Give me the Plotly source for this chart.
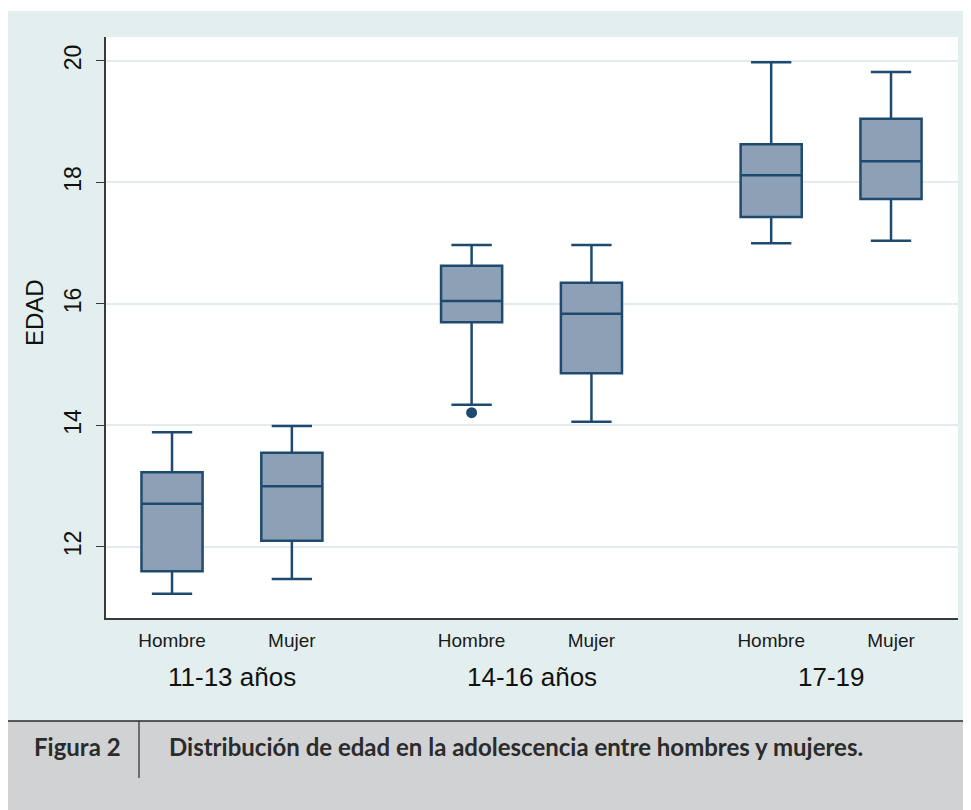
import plotly.graph_objects as go

# ---- data ----
groups = ["11-13 años", "14-16 años", "17-19"]
box_pos = [0, 1, 2.5, 3.5, 5, 6]
box_labels = ["Hombre", "Mujer", "Hombre", "Mujer", "Hombre", "Mujer"]
group_pos = [0.5, 3.0, 5.5]
lower_whisker = [11.23, 11.47, 14.34, 14.06, 17.00, 17.04]
q1_vals = [11.60, 12.10, 15.70, 14.86, 17.43, 17.73]
median_vals = [12.71, 13.00, 16.05, 15.84, 18.12, 18.35]
q3_vals = [13.23, 13.55, 16.63, 16.35, 18.63, 19.05]
upper_whisker = [13.89, 13.99, 16.97, 16.97, 19.98, 19.82]
outlier_x = [2.5]
outlier_y = [14.21]
y_ticks = [12, 14, 16, 18, 20]
caption_label = "Figura 2"
caption_text = "Distribución de edad en la adolescencia entre hombres y mujeres."

# page body has an 8px margin; work in reference pixel coords and shift
OFF = 8
W, H = 971 - OFF, 810 - OFF
PL, PR, PT, PB = 106, 958, 37, 618  # plot box in reference pixels
ML, MT = PL - OFF, PT - OFF
MR = W - (PR - OFF)
MB = H - (PB - OFF)
PW, PH = PR - PL, PB - PT

def px(x):
    return (x - PL) / PW

def py(y):
    return (PB - y) / PH

LINE = "#1f4a70"
FILL = "#8da0b5"
TEAL = "#e3eeee"
GRAY = "#d1d2d4"

fig = go.Figure()
fig.add_trace(go.Box(
    x=box_pos, q1=q1_vals, median=median_vals, q3=q3_vals,
    lowerfence=lower_whisker, upperfence=upper_whisker,
    width=0.51, whiskerwidth=0.66,
    fillcolor=FILL, line=dict(color=LINE, width=2.5),
    boxpoints=False, showlegend=False, hoverinfo="skip",
))
fig.add_trace(go.Scatter(
    x=outlier_x, y=outlier_y, mode="markers",
    marker=dict(color=LINE, size=11), showlegend=False, hoverinfo="skip",
))

shapes = [
    dict(type="rect", xref="paper", yref="paper", x0=px(0), x1=px(980), y0=py(0), y1=py(11),
         fillcolor="white", line_width=0),
    dict(type="rect", xref="paper", yref="paper", x0=px(8), x1=px(980), y0=py(721), y1=py(820),
         fillcolor=GRAY, line_width=0),
    dict(type="line", xref="paper", yref="paper", x0=px(8), x1=px(980), y0=py(721), y1=py(721),
         line=dict(color="#2a2a2a", width=1.5)),
    dict(type="line", xref="paper", yref="paper", x0=px(139), x1=px(139), y0=py(721), y1=py(778),
         line=dict(color="#2a2a2a", width=1.2)),
]

annotations = []
for g, gx in zip(groups, group_pos):
    annotations.append(dict(x=gx, xref="x", y=py(677), yref="paper", text=g, showarrow=False,
                            font=dict(family="Liberation Sans, Arial", size=26, color="#111111"),
                            xanchor="center", yanchor="middle"))
annotations.append(dict(x=px(34), xref="paper", y=py(313), yref="paper", text="EDAD", textangle=-90,
                        showarrow=False, font=dict(family="Liberation Sans, Arial", size=24, color="#111111"),
                        xanchor="center", yanchor="middle"))
annotations.append(dict(x=px(32), xref="paper", y=py(746), yref="paper", text="<b>" + caption_label + "</b>",
                        showarrow=False, font=dict(family="Lato", size=24, color="#2b2b2b"),
                        xanchor="left", yanchor="middle"))
annotations.append(dict(x=px(167), xref="paper", y=py(746), yref="paper", text="<b>" + caption_text + "</b>",
                        showarrow=False, font=dict(family="Lato", size=24, color="#2b2b2b"),
                        xanchor="left", yanchor="middle"))

fig.update_layout(
    width=W, height=H,
    margin=dict(l=ML, r=MR, t=MT, b=MB, pad=0),
    paper_bgcolor=TEAL, plot_bgcolor="white",
    shapes=shapes, annotations=annotations,
    xaxis=dict(range=[-0.551, 6.559], tickvals=box_pos, ticktext=box_labels,
               showgrid=False, zeroline=False, showline=True, linecolor="#3a3a3a", linewidth=1.5,
               ticks="outside", ticklen=4, tickcolor="rgba(0,0,0,0)",
               tickfont=dict(family="Liberation Sans, Arial", size=19, color="#1a1a1a")),
    yaxis=dict(range=[10.83, 20.395], tickvals=y_ticks, tickangle=-90,
               showgrid=True, gridcolor="#e2ecec", gridwidth=2, zeroline=False,
               showline=True, linecolor="#3a3a3a", linewidth=1.5,
               ticks="outside", ticklen=8, tickcolor="#3a3a3a", tickwidth=1.2,
               ticklabelstandoff=6,
               tickfont=dict(family="Liberation Sans, Arial", size=23, color="#111111")),
)

fig.write_html("out.html")
